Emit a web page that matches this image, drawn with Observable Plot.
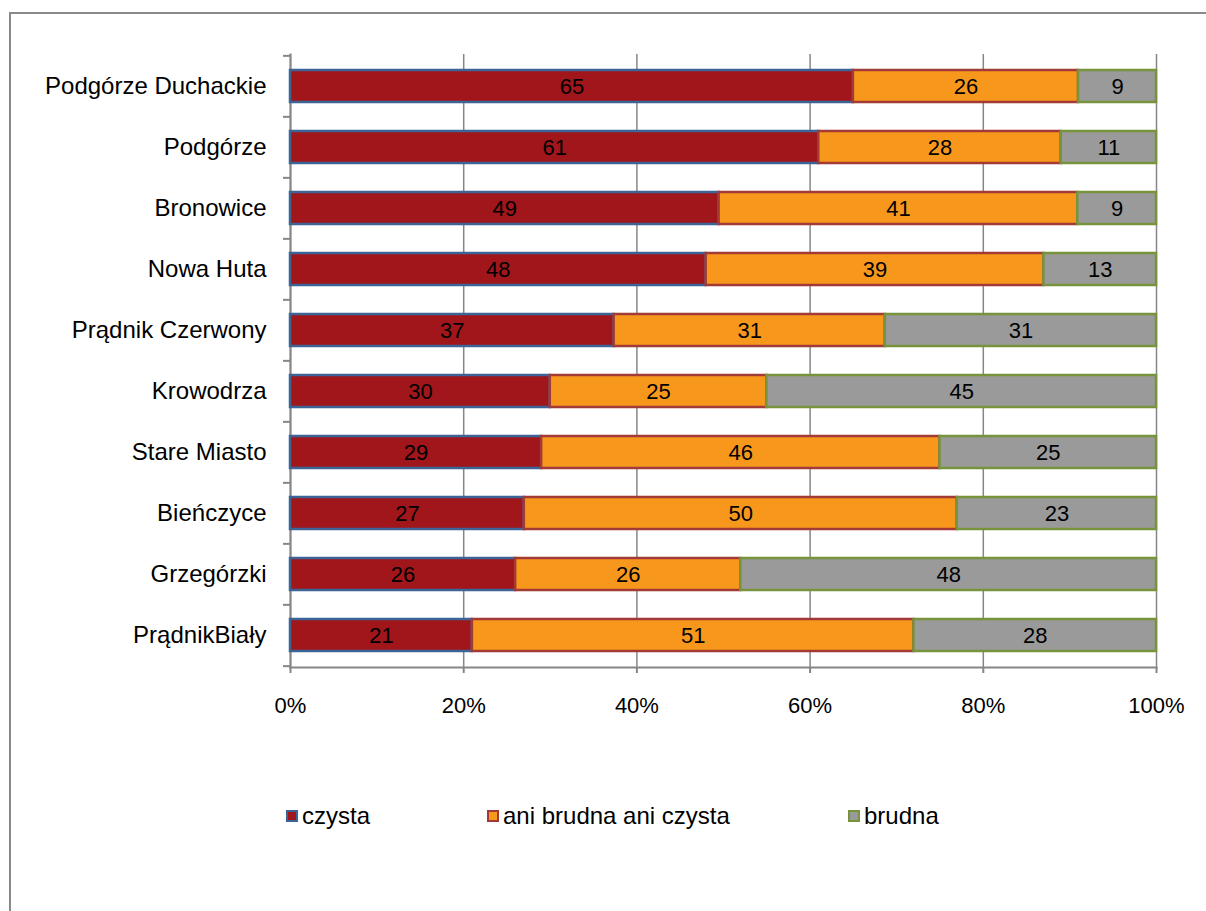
<!DOCTYPE html>
<html><head><meta charset="utf-8">
<script src="https://cdn.jsdelivr.net/npm/d3@7"></script>
<script src="https://cdn.jsdelivr.net/npm/@observablehq/plot@0.6"></script>
<style>
body{margin:0;background:#fff;font-family:"Liberation Sans",Arial,sans-serif;}
#wrap{position:relative;width:1206px;height:911px;overflow:hidden;background:#fff;}
#frame{position:absolute;left:9px;top:12px;width:1300px;height:1000px;border:2px solid #898989;pointer-events:none;}
#chart{position:absolute;left:0;top:0;}
.lg{position:absolute;top:803px;height:26px;display:flex;align-items:center;font-size:24px;color:#000;white-space:nowrap;}
.sw{width:8px;height:8px;border:2px solid;margin-right:4px;}
</style></head>
<body><div id="wrap"><div id="chart"></div><div id="legend"></div><div id="frame"></div></div>
<script>
const districts = ["Podgórze Duchackie","Podgórze","Bronowice","Nowa Huta","Prądnik Czerwony","Krowodrza","Stare Miasto","Bieńczyce","Grzegórzki","PrądnikBiały"];
const series = ["czysta","ani brudna ani czysta","brudna"];
const czysta = [65,61,49,48,37,30,29,27,26,21];
const ani = [26,28,41,39,31,25,46,50,26,51];
const brudna = [9,11,9,13,31,45,25,23,48,28];
const fills = ["#A0161B","#F7981D","#9A9A9A"];
const strokes = ["#3C6496","#A23B36","#77933C"];
const xTicks = [0,0.2,0.4,0.6,0.8,1];
const legendLeft = [286,487,848];

const valuesBySeries = [czysta, ani, brudna];
const rows = [];
districts.forEach((d, i) => {
  series.forEach((s, j) => {
    rows.push({district: d, series: s, value: valuesBySeries[j][i], fill: fills[j], stroke: strokes[j]});
  });
});

const W = 1206, H = 740, top_ = 54, bottom_ = 667;
const step = (bottom_ - top_) / districts.length;
const axisGray = "#868686";

const chart = Plot.plot({
  width: W, height: H,
  marginLeft: 290, marginRight: 50, marginTop: top_, marginBottom: H - bottom_,
  style: {fontFamily: "'Liberation Sans', Arial, sans-serif", fontSize: "22px", background: "transparent", color: "#000"},
  x: {domain: [0, 1], label: null},
  y: {domain: districts, paddingInner: 0.48, paddingOuter: 0.24, label: null},
  color: {type: "identity"},
  marks: [
    Plot.gridX(xTicks, {stroke: axisGray, strokeOpacity: 1, strokeWidth: 1.5}),
    Plot.frame({anchor: "left", stroke: axisGray, strokeWidth: 2}),
    Plot.frame({anchor: "bottom", stroke: axisGray, strokeWidth: 2}),
    Plot.barX(rows, Plot.stackX({x: "value", y: "district", z: "series", fill: "fill", stroke: "stroke", strokeWidth: 2.5, offset: "normalize"})),
    Plot.text(rows, Plot.stackX({x: "value", y: "district", z: "series", text: d => String(d.value), offset: "normalize", fontSize: 22, fill: "#000"})),
    Plot.axisX({ticks: xTicks, tickSize: 6, tickPadding: 24, tickFormat: d3.format(".0%"), stroke: axisGray, strokeWidth: 2, fontSize: 22, label: null}),
    Plot.axisY({tickSize: 0, tickPadding: 24, fontSize: 24, label: null}),
    Plot.axisY({tickSize: 7, tickFormat: () => "", dy: -step / 2, stroke: axisGray, strokeWidth: 2, label: null}),
    Plot.axisY({ticks: [districts[districts.length - 1]], tickSize: 7, tickFormat: () => "", dy: step / 2, stroke: axisGray, strokeWidth: 2, label: null})
  ]
});
document.getElementById("chart").appendChild(chart);

const lg = document.getElementById("legend");
series.forEach((s, j) => {
  const item = document.createElement("div");
  item.className = "lg";
  item.style.left = legendLeft[j] + "px";
  const sw = document.createElement("div");
  sw.className = "sw";
  sw.style.background = fills[j];
  sw.style.borderColor = strokes[j];
  item.appendChild(sw);
  const t = document.createElement("span");
  t.textContent = s;
  item.appendChild(t);
  lg.appendChild(item);
});
</script>
</body></html>
